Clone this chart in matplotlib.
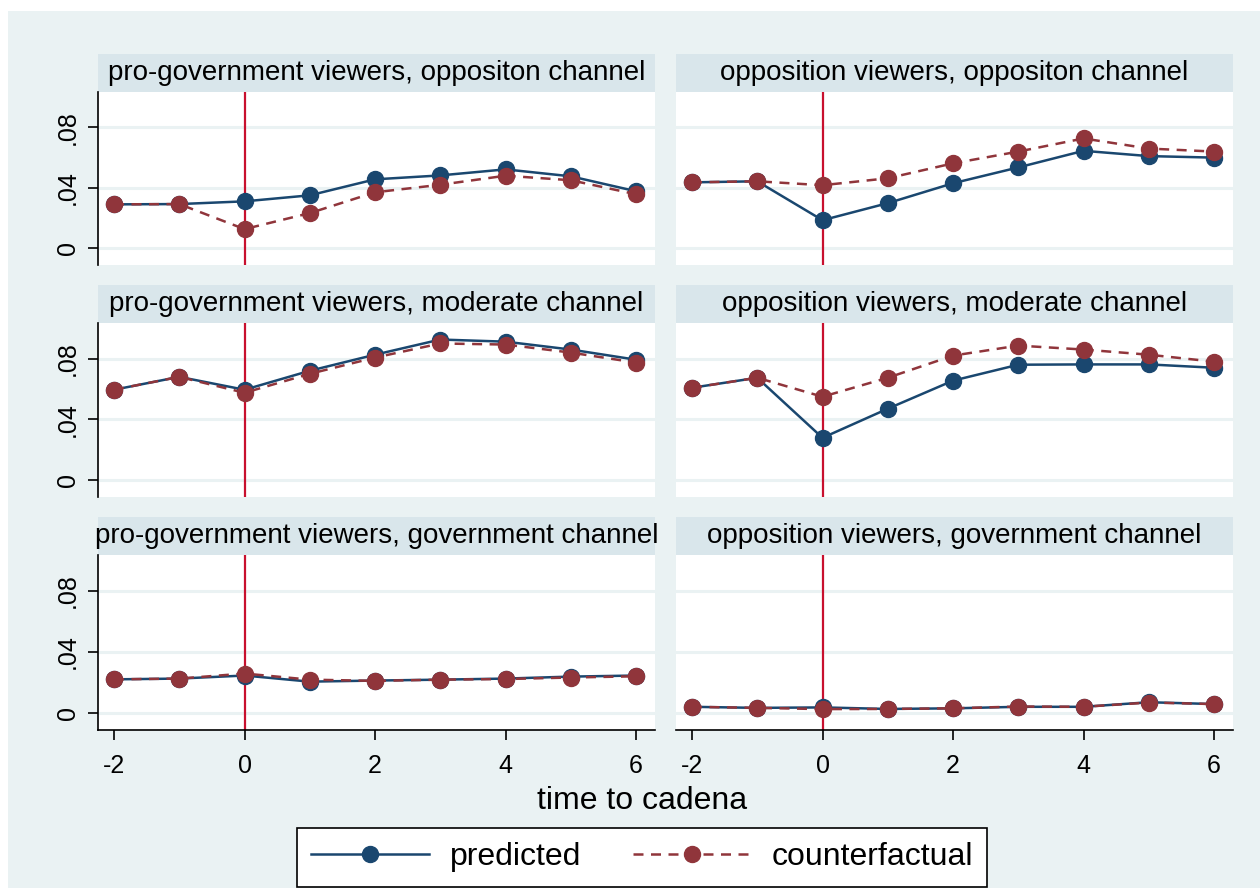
import matplotlib
matplotlib.use("Agg")
import matplotlib.pyplot as plt
from matplotlib.patches import Rectangle

plt.rcParams["font.family"] = ["Liberation Sans", "DejaVu Sans"]

# event time relative to the cadena
t = [-2, -1, 0, 1, 2, 3, 4, 5, 6]

panel_titles = [
    "pro-government viewers, oppositon channel",
    "opposition viewers, oppositon channel",
    "pro-government viewers, moderate channel",
    "opposition viewers, moderate channel",
    "pro-government viewers, government channel",
    "opposition viewers, government channel",
]

predicted = [
    [0.0290, 0.0292, 0.0310, 0.0350, 0.0456, 0.0482, 0.0522, 0.0476, 0.0377],
    [0.0436, 0.0443, 0.0185, 0.0298, 0.0430, 0.0535, 0.0645, 0.0610, 0.0600],
    [0.0595, 0.0680, 0.0595, 0.0720, 0.0826, 0.0926, 0.0912, 0.0860, 0.0793],
    [0.0608, 0.0674, 0.0278, 0.0470, 0.0655, 0.0760, 0.0762, 0.0762, 0.0740],
    [0.0220, 0.0225, 0.0245, 0.0205, 0.0212, 0.0218, 0.0225, 0.0238, 0.0245],
    [0.0040, 0.0033, 0.0036, 0.0026, 0.0030, 0.0040, 0.0040, 0.0070, 0.0058],
]

counterfactual = [
    [0.0290, 0.0292, 0.0126, 0.0232, 0.0370, 0.0420, 0.0480, 0.0450, 0.0357],
    [0.0436, 0.0443, 0.0417, 0.0463, 0.0562, 0.0640, 0.0727, 0.0660, 0.0640],
    [0.0595, 0.0680, 0.0575, 0.0700, 0.0807, 0.0900, 0.0893, 0.0840, 0.0774],
    [0.0608, 0.0674, 0.0549, 0.0674, 0.0820, 0.0886, 0.0860, 0.0826, 0.0780],
    [0.0220, 0.0225, 0.0258, 0.0218, 0.0210, 0.0218, 0.0222, 0.0232, 0.0240],
    [0.0040, 0.0033, 0.0025, 0.0026, 0.0030, 0.0042, 0.0040, 0.0068, 0.0058],
]

y_ticks = [0, 0.04, 0.08]
y_ticklabels = ["0", ".04", ".08"]
x_ticks = [-2, 0, 2, 4, 6]

NAVY = "#1a476f"
MAROON = "#90353b"
XLINE = "#c8102e"
BG = "#eaf2f3"
STRIP = "#d9e6eb"

W, H = 1260, 888
fig = plt.figure(figsize=(W / 100, H / 100), dpi=100, facecolor="white")


def box(x0, y0, x1, y1):
    # pixel box (top-left origin) -> figure fraction rect
    return [x0 / W, 1 - y1 / H, (x1 - x0) / W, (y1 - y0) / H]


# graph region background
fig.patches.append(Rectangle((8 / W, 0), 1, 1 - 11 / H, transform=fig.transFigure,
                             facecolor=BG, edgecolor="none", zorder=-10))

cols = [(98, 655), (676, 1233)]
plot_rows = [(92, 265), (323, 497), (555, 730)]
strip_rows = [(54, 92), (285, 323), (517, 555)]

for i in range(6):
    r, c = divmod(i, 2)
    x0, x1 = cols[c]
    sy0, sy1 = strip_rows[r]
    py0, py1 = plot_rows[r]

    # title strip
    sax = fig.add_axes(box(x0, sy0, x1, sy1))
    sax.set_facecolor(STRIP)
    sax.set_xticks([])
    sax.set_yticks([])
    for s in sax.spines.values():
        s.set_visible(False)
    sax.text(0.5, 0.5, panel_titles[i], ha="center", va="center", fontsize=20,
             transform=sax.transAxes, clip_on=False)

    ax = fig.add_axes(box(x0, py0, x1, py1))
    ax.set_facecolor("white")
    ax.set_xlim(-2.245, 6.29)
    ax.set_ylim(-0.0112, 0.1035)
    for yv in y_ticks:
        ax.axhline(yv, color=BG, lw=2.2, zorder=0)
    ax.axvline(0, color=XLINE, lw=1.6, zorder=1)

    ax.plot(t, predicted[i], color=NAVY, lw=1.8, marker="o", ms=11.5,
            mec=NAVY, mfc=NAVY, zorder=3, label="predicted")
    ax.plot(t, counterfactual[i], color=MAROON, lw=1.8, ls=(0, (4, 3)), marker="o",
            ms=11.5, mec=MAROON, mfc=MAROON, zorder=4, label="counterfactual")

    for s in ax.spines.values():
        s.set_visible(False)
    ax.set_yticks(y_ticks)
    ax.set_xticks(x_ticks)
    if c == 0:
        ax.spines["left"].set_visible(True)
        ax.spines["left"].set_linewidth(1.2)
        ax.set_yticklabels(y_ticklabels, rotation=90, va="center", fontsize=18)
        ax.tick_params(axis="y", length=7, width=1.2, pad=6)
    else:
        ax.tick_params(axis="y", left=False, labelleft=False)
    if r == 2:
        ax.spines["bottom"].set_visible(True)
        ax.spines["bottom"].set_linewidth(1.2)
        ax.set_xticklabels([str(v) for v in x_ticks], fontsize=18)
        ax.tick_params(axis="x", length=7, width=1.2, pad=10)
    else:
        ax.tick_params(axis="x", bottom=False, labelbottom=False)

fig.text(642 / W, 1 - 801 / H, "time to cadena", ha="center", va="center", fontsize=23)

handles, labels = ax.get_legend_handles_labels()
leg = fig.legend(handles, labels, loc="upper center", bbox_to_anchor=(642 / W, 1 - 828 / H),
                 ncol=2, fontsize=23, frameon=True, fancybox=False, edgecolor="black",
                 facecolor="white", framealpha=1,
                 handlelength=3.7, handletextpad=0.63, columnspacing=1.63, borderpad=0.45,
                 borderaxespad=0)
leg.get_frame().set_linewidth(1.2)

fig.savefig("out.png", dpi=100, facecolor="white")
